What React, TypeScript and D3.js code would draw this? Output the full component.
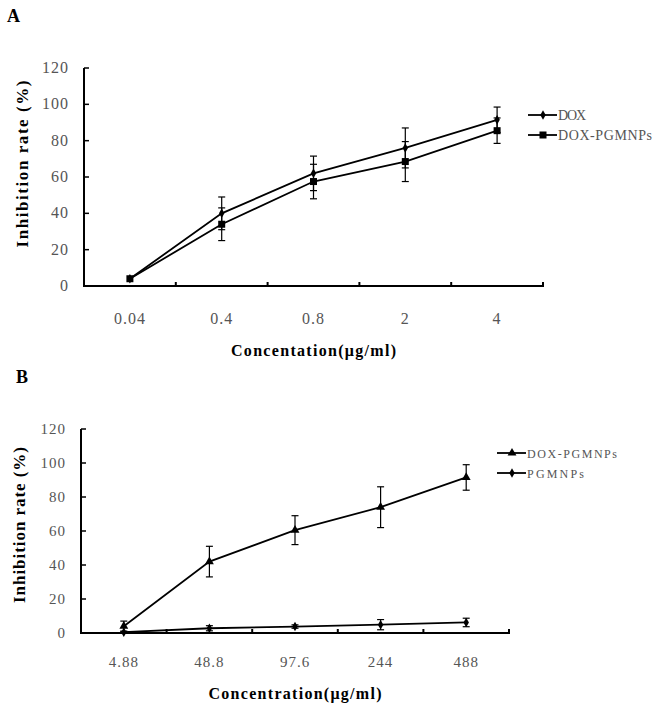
import React from "react";
import * as d3 from "d3";

// Panel A data
const catsA = ["0.04", "0.4", "0.8", "2", "4"];
const doxA = [4, 40, 62, 76, 91.5];
const doxErrA = [0, 9, 9.5, 11, 7];
const dpA = [4, 34, 57.5, 68.5, 85.5];
const dpErrA = [0, 9, 9.5, 11, 7];

// Panel B data
const catsB = ["4.88", "48.8", "97.6", "244", "488"];
const dpB = [4, 42, 60.5, 74, 91.5];
const dpErrB = [3, 9, 8.5, 12, 7.5];
const pgB = [0.5, 2.8, 3.8, 4.9, 6.2];
const pgErrB = [0.5, 1.5, 1, 3, 2.5];

const yTicks = [0, 20, 40, 60, 80, 100, 120];

const FF = "Liberation Serif";

type Series = { name: string; values: number[]; errs: number[]; marker: string };

function Marker({ type, x, y }: { type: string; x: number; y: number }) {
  if (type === "square") return <rect x={x - 3.5} y={y - 3.5} width={7} height={7} fill="#000" />;
  if (type === "triangle") {
    const p = d3.symbol().type(d3.symbolTriangle).size(34)();
    return <path d={p || ""} transform={`translate(${x},${y})`} fill="#000" />;
  }
  const p = d3.symbol().type(d3.symbolDiamond).size(26)();
  return <path d={p || ""} transform={`translate(${x},${y})`} fill="#000" />;
}

function Panel(props: {
  letter: string; lx: number; ly: number;
  x0: number; x1: number; yTop: number; yZero: number;
  cats: string[]; series: Series[]; xTitle: string; xTitleLen: number;
  tickLabelY: number; xTitleY: number; yTitleX: number; yTitleLen: number; yTitleCenter: number;
  legendX: number; legendY: number[]; legendFont: number; legendLens: number[];
  tickFont: number; tickSpacing: number;
}) {
  const { x0, x1, yTop, yZero, cats, series } = props;
  const x = d3.scaleBand().domain(cats).range([x0, x1]);
  const y = d3.scaleLinear().domain([0, 120]).range([yZero, yTop]);
  const line = d3.line<number>().x((_, i) => (x(cats[i]) as number) + x.bandwidth() / 2).y((d) => y(d));
  const bounds = [x0, ...cats.map((c) => (x(c) as number) + x.bandwidth())];
  const cx = (c: string) => (x(c) as number) + x.bandwidth() / 2;
  return (
    <g fontFamily={FF}>
      <text x={props.lx} y={props.ly} fontFamily={FF} fontWeight="bold" fontSize={18}>{props.letter}</text>
      <line x1={x0} x2={x0} y1={yTop} y2={yZero} stroke="#000" strokeWidth={2} />
      <line x1={x0 - 1} x2={x1 + 1} y1={yZero} y2={yZero} stroke="#000" strokeWidth={2} />
      {yTicks.map((t) => (
        <g key={t}>
          <line x1={x0} x2={x0 + 5} y1={y(t)} y2={y(t)} stroke="#000" strokeWidth={1.5} />
          <text x={x0 - 15} y={y(t) + 5} textAnchor="end" fontFamily={FF} letterSpacing={props.tickSpacing} fontSize={props.tickFont} fill="#555">{t}</text>
        </g>
      ))}
      {bounds.slice(1).map((b, i) => (
        <line key={i} x1={b} x2={b} y1={yZero} y2={yZero - 4} stroke="#000" strokeWidth={2} />
      ))}
      {cats.map((c) => (
        <text key={c} x={cx(c)} y={props.tickLabelY} textAnchor="middle" fontFamily={FF} letterSpacing={props.tickSpacing} fontSize={props.tickFont} fill="#555">{c}</text>
      ))}
      <text x={(x0 + x1) / 2 - props.xTitleLen / 2} y={props.xTitleY} fontFamily={FF} fontWeight="bold" fontSize={16}
        textLength={props.xTitleLen} lengthAdjust="spacing">{props.xTitle}</text>
      <text transform={`translate(${props.yTitleX},${props.yTitleCenter + props.yTitleLen / 2}) rotate(-90)`} fontFamily={FF} fontWeight="bold" fontSize={17}
        textLength={props.yTitleLen} lengthAdjust="spacing">Inhibition rate (%)</text>
      {series.map((s) => (
        <g key={s.name}>
          <path d={line(s.values) || ""} fill="none" stroke="#000" strokeWidth={1.8} />
          {s.values.map((v, i) => {
            const px = cx(cats[i]);
            const e = s.errs[i];
            if (!e) return null;
            return (
              <g key={i}>
                <line x1={px} x2={px} y1={y(v + e)} y2={y(v - e)} stroke="#000" strokeWidth={1.2} />
                <line x1={px - 3.5} x2={px + 3.5} y1={y(v + e)} y2={y(v + e)} stroke="#000" strokeWidth={1.2} />
                <line x1={px - 3.5} x2={px + 3.5} y1={y(v - e)} y2={y(v - e)} stroke="#000" strokeWidth={1.2} />
              </g>
            );
          })}
          {s.values.map((v, i) => (
            <Marker key={i} type={s.marker} x={cx(cats[i])} y={y(v)} />
          ))}
        </g>
      ))}
      {series.map((s, i) => (
        <g key={s.name}>
          <line x1={props.legendX} x2={props.legendX + 29} y1={props.legendY[i]} y2={props.legendY[i]} stroke="#000" strokeWidth={1.8} />
          <Marker type={s.marker} x={props.legendX + 15} y={props.legendY[i]} />
          <text x={props.legendX + 30} y={props.legendY[i] + 5} fontFamily={FF} fontSize={props.legendFont} fill="#555"
            textLength={props.legendLens[i]} lengthAdjust="spacing">{s.name}</text>
        </g>
      ))}
    </g>
  );
}

export default function App() {
  const seriesA: Series[] = [
    { name: "DOX", values: doxA, errs: doxErrA, marker: "diamond" },
    { name: "DOX-PGMNPs", values: dpA, errs: dpErrA, marker: "square" },
  ];
  const seriesB: Series[] = [
    { name: "DOX-PGMNPs", values: dpB, errs: dpErrB, marker: "triangle" },
    { name: "PGMNPs", values: pgB, errs: pgErrB, marker: "diamond" },
  ];
  return (
    <svg width={658} height={708} style={{ position: "absolute", left: 0, top: 0, background: "#fff" }}>
      <rect width={658} height={708} fill="#fff" />
      <Panel letter="A" lx={7} ly={22} x0={84} x1={543} yTop={68} yZero={286} cats={catsA} series={seriesA}
        xTitle="Concentation(μg/ml)" xTitleLen={165} tickLabelY={324} xTitleY={356} yTitleX={28} yTitleLen={167} yTitleCenter={164}
        legendX={528} legendY={[115, 135]} legendFont={14} legendLens={[28, 94]} tickFont={16} tickSpacing={1} />
      <Panel letter="B" lx={16} ly={383} x0={81} x1={509} yTop={429} yZero={633} cats={catsB} series={seriesB}
        xTitle="Concentration(μg/ml)" xTitleLen={173} tickLabelY={667} xTitleY={699} yTitleX={25} yTitleLen={156} yTitleCenter={525}
        legendX={497} legendY={[453, 473]} legendFont={12} legendLens={[90, 57]} tickFont={15} tickSpacing={1} />
    </svg>
  );
}
